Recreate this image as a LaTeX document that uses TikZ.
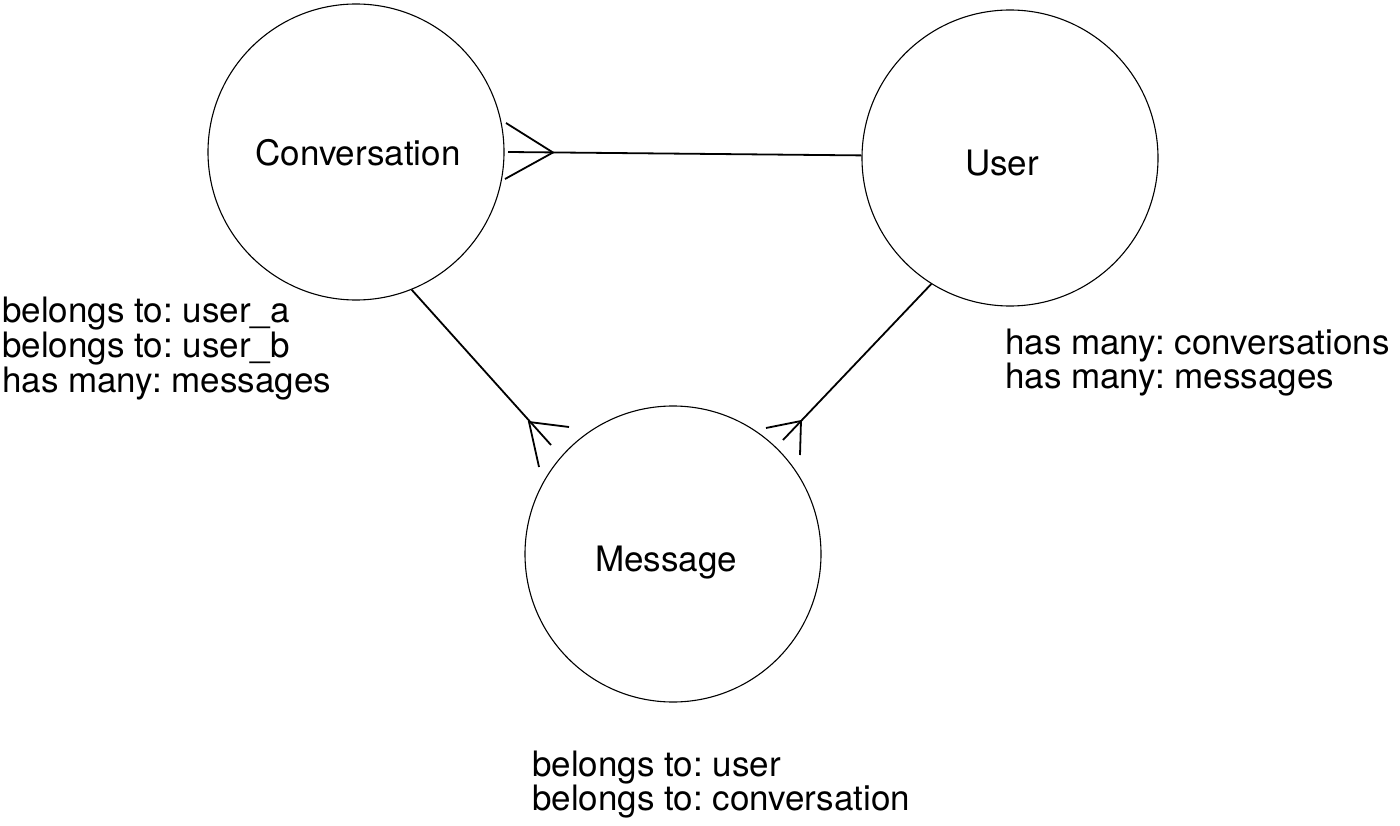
\documentclass[tikz,border=0pt]{standalone}
\usepackage{fontspec}
\setmainfont{TeX Gyre Heros}
\frenchspacing
\begin{document}
\begin{tikzpicture}[x=1pt,y=-1pt,
  ent/.style={draw, circle, minimum size=296pt, inner sep=0pt, line width=1.1pt},
  lbl/.style={font=\fontsize{35}{35}\selectfont\frenchspacing, inner sep=0pt},
  note/.style={font=\fontsize{35}{35}\selectfont\frenchspacing, inner sep=0pt, anchor=base west},
  rel/.style={line width=1.8pt}]
\useasboundingbox (0,0) rectangle (1400,826);
% entities
\node[ent] (conv) at (356,152) {};
\node[ent] (user) at (1010,158) {};
\node[ent] (msg) at (673,554) {};
\node[lbl] (convl) at (358,153) {Conversation};
\node[lbl] (userl) at (1002,163) {User};
\node[lbl, anchor=base] (msgl) at (666,571) {Message};
% User -> Conversation (many)
\coordinate (cuE) at (508,152);
\coordinate (cuF) at (553,152.5);
\coordinate (cuA) at (506,123);
\coordinate (cuB) at (505,179);
\draw[rel] (user.179) -- (cuE);
\draw[rel] (cuA) -- (cuF) -- (cuB);
% Conversation -> Message (many)
\coordinate (cmE) at (551,445);
\coordinate (cmF) at (529,422);
\coordinate (cmA) at (569,427);
\coordinate (cmB) at (539,467);
\draw[rel] (conv.-68) -- (cmE);
\draw[rel] (cmA) -- (cmF) -- (cmB);
% User -> Message (many)
\coordinate (umE) at (783,440);
\coordinate (umF) at (801,421);
\coordinate (umA) at (766,428);
\coordinate (umB) at (800,455);
\draw[rel] (user.-122) -- (umE);
\draw[rel] (umA) -- (umF) -- (umB);
% notes
\node[note] (c1) at (2,323) {belongs to: user\_a};
\node[note] (c2) at (2,357.5) {belongs to: user\_b};
\node[note] (c3) at (2,392) {has many: messages};
\node[note] (u1) at (1005,354) {has many: conversations};
\node[note] (u2) at (1005,388.5) {has many: messages};
\node[note] (m1) at (532,776) {belongs to: user};
\node[note] (m2) at (532,810.5) {belongs to: conversation};
\end{tikzpicture}
\end{document}
